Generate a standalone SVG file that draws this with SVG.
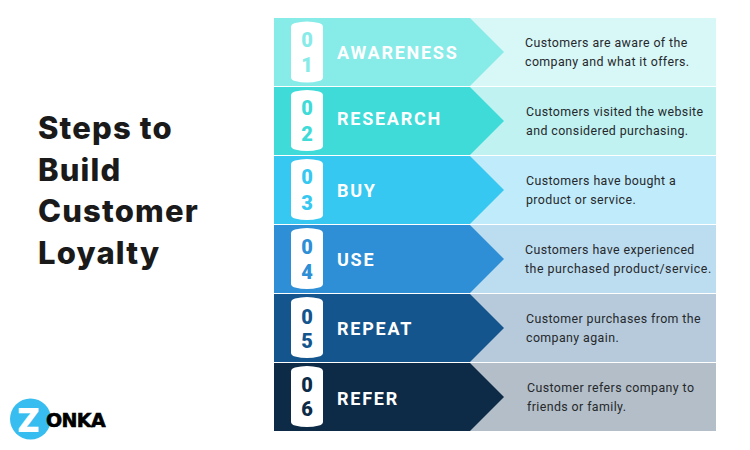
<svg xmlns="http://www.w3.org/2000/svg" width="750" height="450" viewBox="0 0 750 450">
<style>
.t{font-family:Inter,"Liberation Sans",sans-serif;font-weight:800;font-size:31px;letter-spacing:1.15px;fill:#1a1a1a}
.l{font-family:Roboto,"Liberation Sans",sans-serif;font-weight:700;font-size:18px;letter-spacing:1.75px;fill:#fff}
.n{font-family:Roboto,"Liberation Sans",sans-serif;font-weight:900;font-size:20px;text-anchor:middle}
.d{font-family:Roboto,"Liberation Sans",sans-serif;font-size:12.4px;letter-spacing:.4px;fill:#26292c}
.p{fill:#fff}
</style>
<defs><path id="pill" d="M0 6Q0 3 4 2Q16 -1 28 2Q32 3 32 6V56Q32 59 28 60Q16 63 4 60Q0 59 0 56Z"/></defs>
<rect width="750" height="450" fill="#fff"/>
<g id="title"><text class="t" x="38" y="139">Steps to</text><text class="t" x="38" y="181">Build</text><text class="t" x="38" y="222">Customer</text><text class="t" x="38" y="264">Loyalty</text></g>
<g id="step1"><rect x="274" y="18" width="442" height="68" fill="#d8f7f7"/><path d="M274 18H470L504 52L470 86H274Z" fill="#87ebe8"/><use href="#pill" class="p" x="291" y="21"/><text class="n" x="307" y="47" fill="#87ebe8">0</text><text class="n" x="307" y="71.500" fill="#87ebe8">1</text><text class="l" x="337" y="59">AWARENESS</text><text class="d" x="525" y="47">Customers are aware of the</text><text class="d" x="525" y="66">company and what it offers.</text></g>
<g id="step2"><rect x="274" y="87" width="442" height="68" fill="#c0f2f2"/><path d="M274 87H470L504 121L470 155H274Z" fill="#3edbd8"/><use href="#pill" class="p" x="291" y="89.500"/><text class="n" x="307" y="115" fill="#3edbd8">0</text><text class="n" x="307" y="141" fill="#3edbd8">2</text><text class="l" x="337" y="125">RESEARCH</text><text class="d" x="526" y="116">Customers visited the website</text><text class="d" x="526" y="135">and considered purchasing.</text></g>
<g id="step3"><rect x="274" y="156" width="442" height="68" fill="#c0ebfa"/><path d="M274 156H470L504 190L470 224H274Z" fill="#37c8f2"/><use href="#pill" class="p" x="291" y="158.500"/><text class="n" x="307" y="184" fill="#37c8f2">0</text><text class="n" x="307" y="210" fill="#37c8f2">3</text><text class="l" x="337" y="197">BUY</text><text class="d" x="526" y="185">Customers have bought a</text><text class="d" x="526" y="204">product or service.</text></g>
<g id="step4"><rect x="274" y="225" width="442" height="68" fill="#bcdcf0"/><path d="M274 225H470L504 259L470 293H274Z" fill="#2e8fd6"/><use href="#pill" class="p" x="291" y="227.500"/><text class="n" x="307" y="254" fill="#2e8fd6">0</text><text class="n" x="307" y="279" fill="#2e8fd6">4</text><text class="l" x="337" y="266">USE</text><text class="d" x="525" y="254">Customers have experienced</text><text class="d" x="525" y="273" style="letter-spacing:.5px">the purchased product/service.</text></g>
<g id="step5"><rect x="274" y="294" width="442" height="68" fill="#b6cadb"/><path d="M274 294H470L504 328L470 362H274Z" fill="#15558d"/><use href="#pill" class="p" x="291" y="296.500"/><text class="n" x="307" y="324" fill="#15558d">0</text><text class="n" x="307" y="348" fill="#15558d">5</text><text class="l" x="337" y="335">REPEAT</text><text class="d" x="526" y="323">Customer purchases from the</text><text class="d" x="526" y="342">company again.</text></g>
<g id="step6"><rect x="274" y="363" width="442" height="68" fill="#b3bec8"/><path d="M274 363H470L504 397L470 431H274Z" fill="#0d2b47"/><use href="#pill" class="p" x="291" y="365.500"/><text class="n" x="307" y="392" fill="#0d2b47">0</text><text class="n" x="307" y="416" fill="#0d2b47">6</text><text class="l" x="337" y="405">REFER</text><text class="d" x="527" y="392">Customer refers company to</text><text class="d" x="527" y="411">friends or family.</text></g>
<g id="logo"><circle cx="30.500" cy="419" r="20.500" fill="#37bdf0"/><text x="17" y="432" font-family="Inter,'Liberation Sans',sans-serif" font-weight="900" font-size="33" fill="#fff">Z</text><text x="46" y="427" font-family="'DejaVu Sans',sans-serif" font-weight="700" font-size="19" letter-spacing="-.6" stroke="#000" stroke-width=".6" fill="#000">ONKA</text></g>
</svg>
